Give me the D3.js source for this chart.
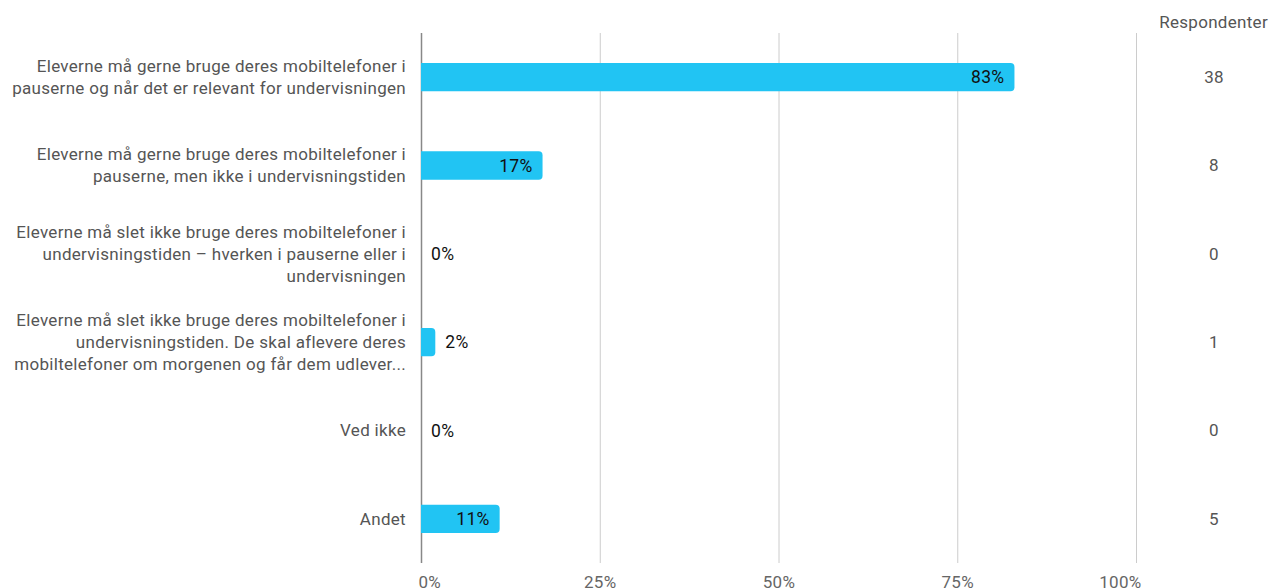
<!DOCTYPE html>
<html>
<head>
<meta charset="utf-8">
<script src="https://cdn.jsdelivr.net/npm/d3@7"></script>
<style>
  body { margin: 0; background: #fff; font-family: Roboto, "Noto Sans", sans-serif; }
  svg text { letter-spacing: 0.3px; }
</style>
</head>
<body>
<div id="chart"></div>
<script>
// chart data
const categories = [
  ["Eleverne må gerne bruge deres mobiltelefoner i", "pauserne og når det er relevant for undervisningen"],
  ["Eleverne må gerne bruge deres mobiltelefoner i", "pauserne, men ikke i undervisningstiden"],
  ["Eleverne må slet ikke bruge deres mobiltelefoner i", "undervisningstiden – hverken i pauserne eller i", "undervisningen"],
  ["Eleverne må slet ikke bruge deres mobiltelefoner i", "undervisningstiden. De skal aflevere deres", "mobiltelefoner om morgenen og får dem udlever..."],
  ["Ved ikke"],
  ["Andet"]
];
const percents = [83, 17, 0, 2, 0, 11];
const respondents = [38, 8, 0, 1, 0, 5];
const tickValues = [0, 0.25, 0.5, 0.75, 1];

const width = 1271, height = 588;
const margin = {top: 33, right: 135, bottom: 25, left: 421};

const svg = d3.select("#chart")
  .append("svg")
  .attr("width", width)
  .attr("height", height);

const x = d3.scaleLinear()
  .domain([0, 1])
  .range([margin.left, width - margin.right]);

const y = d3.scaleBand()
  .domain(d3.range(categories.length))
  .range([margin.top, height - margin.bottom])
  .paddingInner(0.68)
  .paddingOuter(0.34);

// grid lines + x axis labels
const xAxis = svg.append("g")
  .attr("transform", `translate(0,${height - margin.bottom})`)
  .call(d3.axisBottom(x)
    .tickValues(tickValues)
    .tickFormat(d3.format(".0%"))
    .tickSize(-(height - margin.top - margin.bottom))
    .tickPadding(13));

xAxis.select(".domain").remove();
xAxis.selectAll(".tick line")
  .attr("stroke", d => d === 0 ? "#888" : "#ccc")
  .attr("stroke-width", d => d === 0 ? 1.5 : 1);
xAxis.selectAll(".tick text")
  .attr("fill", "#666")
  .attr("font-size", "17px")
  .attr("font-family", "Roboto, sans-serif")
  .attr("text-anchor", (d, i) => i === 0 ? "start" : (i === tickValues.length - 1 ? "end" : "middle"))
  .attr("dx", (d, i) => i === 0 ? -3 : (i === tickValues.length - 1 ? 5 : 0));

// bars with rounded right end
const r = 4;
const barPath = (d, i) => {
  const x0 = x(0), x1 = x(d / 100), y0 = y(i), h = y.bandwidth();
  if (x1 - x0 < 0.5) return "";
  const rr = Math.min(r, (x1 - x0));
  return `M${x0},${y0}H${x1 - rr}Q${x1},${y0} ${x1},${y0 + rr}` +
         `V${y0 + h - rr}Q${x1},${y0 + h} ${x1 - rr},${y0 + h}H${x0}Z`;
};

svg.append("g")
  .selectAll("path")
  .data(percents)
  .join("path")
  .attr("d", barPath)
  .attr("fill", "#21c4f3");

// value labels
const inside = d => (x(d / 100) - x(0)) > 45;
svg.append("g")
  .selectAll("text")
  .data(percents)
  .join("text")
  .attr("x", d => inside(d) ? x(d / 100) - 10 : x(d / 100) + 10)
  .attr("y", (d, i) => y(i) + y.bandwidth() / 2)
  .attr("dy", "0.35em")
  .attr("text-anchor", d => inside(d) ? "end" : "start")
  .attr("font-size", "17.5px")
  .attr("fill", "#111")
  .text(d => d + "%");

// category labels
const labels = svg.append("g")
  .selectAll("text")
  .data(categories)
  .join("text")
  .attr("text-anchor", "end")
  .attr("font-size", "17px")
  .attr("fill", "#555")
  .attr("y", (d, i) => y(i) + y.bandwidth() / 2);

labels.selectAll("tspan")
  .data(d => d.map((t, k) => ({t: t, k: k, n: d.length})))
  .join("tspan")
  .attr("x", margin.left - 15)
  .attr("dy", (d) => d.k === 0 ? `${0.35 - (d.n - 1) * 0.647}em` : "1.294em")
  .text(d => d.t);

// respondents column
svg.append("text")
  .attr("x", width - 3)
  .attr("y", 22)
  .attr("dy", "0.35em")
  .attr("text-anchor", "end")
  .attr("font-size", "17px")
  .attr("fill", "#555")
  .text("Respondenter");

svg.append("g")
  .selectAll("text")
  .data(respondents)
  .join("text")
  .attr("x", 1214)
  .attr("y", (d, i) => y(i) + y.bandwidth() / 2)
  .attr("dy", "0.35em")
  .attr("text-anchor", "middle")
  .attr("font-size", "17px")
  .attr("fill", "#555")
  .text(d => d);
</script>
</body>
</html>
